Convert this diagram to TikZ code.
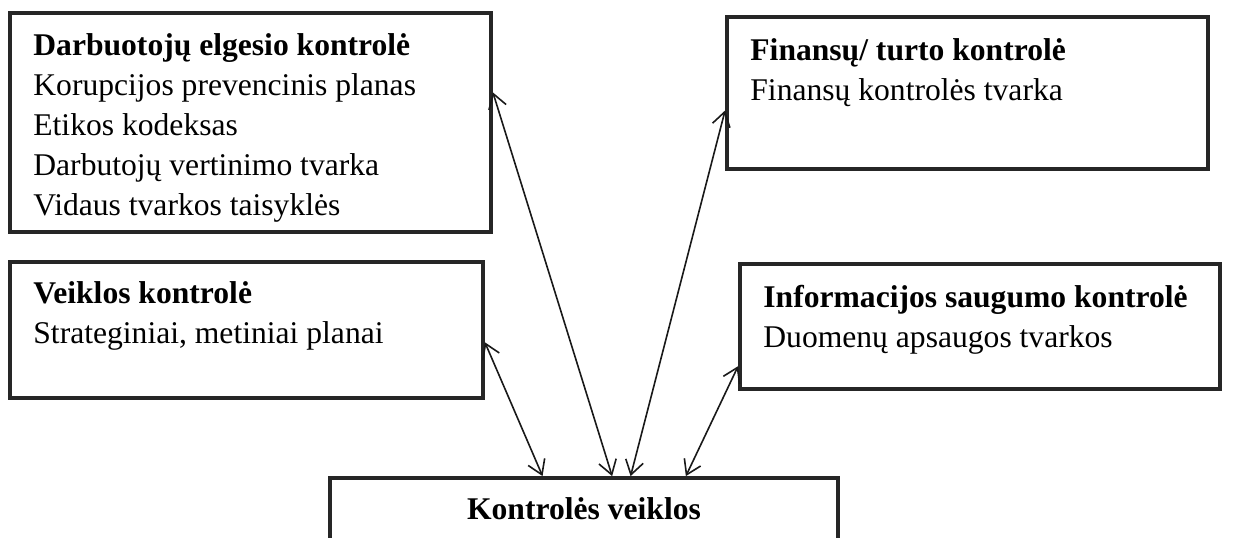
\documentclass[tikz,border=0pt]{standalone}
\usepackage{fontspec}
\setmainfont{Liberation Serif}
\usetikzlibrary{arrows.meta,calc,fit,positioning}

\begin{document}
\begin{tikzpicture}[x=0.5pt, y=-0.5pt,
	every node/.style={font=\fontsize{15.8}{20}\selectfont, inner sep=0pt},
	frame/.style={draw=black!85, line width=1.9pt, rectangle},
	txt/.style={anchor=north west, align=left},
	link/.style={{Straight Barb[length=7pt,width=9pt]}-{Straight Barb[length=7pt,width=9pt]}, line width=0.8pt, black!90}]
	\useasboundingbox (0,0) rectangle (1245,537);
	\clip (0,0) rectangle (1245,537);
	\node[frame, fit={(10,13) (491,232)}] (darb) {};
	\node[txt] (darbtxt) at (33,33) {\textbf{Darbuotojų elgesio kontrolė}\\Korupcijos prevencinis planas\\Etikos kodeksas\\Darbutojų vertinimo tvarka\\Vidaus tvarkos taisyklės};
	\node[frame, fit={(727,17) (1208,169)}] (fin) {};
	\node[txt] (fintxt) at (750,38) {\textbf{Finansų/ turto kontrolė}\\Finansų kontrolės tvarka};
	\node[frame, fit={(10,262) (483,398)}] (veik) {};
	\node[txt] (veiktxt) at (33,281) {\textbf{Veiklos kontrolė}\\Strateginiai, metiniai planai};
	\node[frame, fit={(740,264) (1220,389)}] (info) {};
	\node[txt] (infotxt) at (763,285) {\textbf{Informacijos saugumo kontrolė}\\Duomenų apsaugos tvarkos};
	\node[frame, fit={(330,478) (838,620)}] (ctrl) {};
	\node[anchor=north] (ctrltxt) at (584,497) {\textbf{Kontrolės veiklos}};
	\draw[link] ($(darb.north east)!0.365!(darb.south east)$) -- ($(ctrl.north west)!0.555!(ctrl.north east)$);
	\draw[link] ($(fin.north west)!0.612!(fin.south west)$) -- ($(ctrl.north west)!0.591!(ctrl.north east)$);
	\draw[link] ($(veik.north east)!0.588!(veik.south east)$) -- ($(ctrl.north west)!0.419!(ctrl.north east)$);
	\draw[link] ($(info.north west)!0.808!(info.south west)$) -- ($(ctrl.north west)!0.699!(ctrl.north east)$);
\end{tikzpicture}
\end{document}
